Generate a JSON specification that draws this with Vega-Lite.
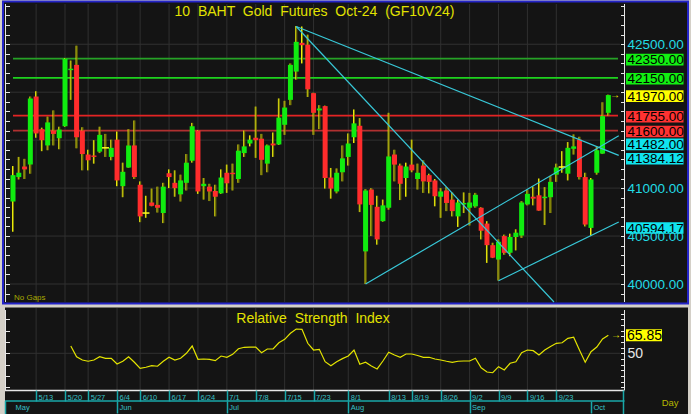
{
"$schema":"https://vega.github.io/schema/vega-lite/v6.json",
"width":691,"height":414,"padding":0,
"autosize":{"type":"none","contains":"padding"},
"background":"#d4d0c8",
"config":{"view":{"stroke":null},"scale":{"continuousPadding":0},"text":{"font":"Liberation Sans"},"axis":{"labelFont":"Liberation Sans"}},
"datasets":{
"candles":[
{"d":"05-07","i":0,"o":40860,"h":41230,"l":40545,"c":41135},
{"d":"05-08","i":1,"o":41115,"h":41325,"l":41090,"c":41160},
{"d":"05-09","i":2,"o":41225,"h":41305,"l":41095,"c":41195},
{"d":"05-10","i":3,"o":41245,"h":41955,"l":41150,"c":41935},
{"d":"05-13","i":4,"o":41955,"h":42010,"l":41525,"c":41570},
{"d":"05-14","i":5,"o":41615,"h":41630,"l":41385,"c":41500},
{"d":"05-15","i":6,"o":41445,"h":41745,"l":41395,"c":41685},
{"d":"05-16","i":7,"o":41600,"h":41810,"l":41445,"c":41565},
{"d":"05-17","i":8,"o":41520,"h":41640,"l":41405,"c":41610},
{"d":"05-20","i":9,"o":41645,"h":42355,"l":41640,"c":42350},
{"d":"05-21","i":10,"o":42230,"h":42330,"l":41920,"c":42245},
{"d":"05-23","i":11,"o":42285,"h":42485,"l":41415,"c":41530},
{"d":"05-24","i":12,"o":41600,"h":41635,"l":41185,"c":41355},
{"d":"05-27","i":13,"o":41350,"h":41400,"l":41185,"c":41290},
{"d":"05-28","i":14,"o":41340,"h":41500,"l":41255,"c":41325},
{"d":"05-29","i":15,"o":41380,"h":41640,"l":41365,"c":41555},
{"d":"05-30","i":16,"o":41420,"h":41565,"l":41325,"c":41420},
{"d":"05-31","i":17,"o":41325,"h":41505,"l":41290,"c":41420},
{"d":"06-04","i":18,"o":41505,"h":41590,"l":41020,"c":41080},
{"d":"06-05","i":19,"o":41020,"h":41265,"l":40905,"c":41170},
{"d":"06-06","i":20,"o":41215,"h":41615,"l":41210,"c":41445},
{"d":"06-07","i":21,"o":41445,"h":41705,"l":41095,"c":41115},
{"d":"06-10","i":22,"o":41035,"h":41070,"l":40645,"c":40705},
{"d":"06-11","i":23,"o":40740,"h":40920,"l":40690,"c":40740},
{"d":"06-12","i":24,"o":40850,"h":40995,"l":40810,"c":40815},
{"d":"06-13","i":25,"o":40825,"h":41015,"l":40745,"c":40795},
{"d":"06-14","i":26,"o":40740,"h":41055,"l":40635,"c":41015},
{"d":"06-17","i":27,"o":41155,"h":41195,"l":41000,"c":41115},
{"d":"06-18","i":28,"o":41055,"h":41185,"l":40910,"c":41000},
{"d":"06-19","i":29,"o":40935,"h":41140,"l":40860,"c":41080},
{"d":"06-20","i":30,"o":41055,"h":41355,"l":40975,"c":41265},
{"d":"06-21","i":31,"o":41285,"h":41680,"l":41265,"c":41645},
{"d":"06-24","i":32,"o":41600,"h":41605,"l":40940,"c":40965},
{"d":"06-25","i":33,"o":41020,"h":41105,"l":40880,"c":41045},
{"d":"06-26","i":34,"o":41015,"h":41045,"l":40865,"c":40965},
{"d":"06-27","i":35,"o":40970,"h":41035,"l":40705,"c":40910},
{"d":"06-28","i":36,"o":40945,"h":41195,"l":40940,"c":41110},
{"d":"07-01","i":37,"o":41160,"h":41245,"l":40950,"c":41050},
{"d":"07-02","i":38,"o":41160,"h":41255,"l":40975,"c":41145},
{"d":"07-03","i":39,"o":41095,"h":41455,"l":41055,"c":41390},
{"d":"07-04","i":40,"o":41365,"h":41600,"l":41325,"c":41435},
{"d":"07-05","i":41,"o":41465,"h":41550,"l":41435,"c":41505},
{"d":"07-08","i":42,"o":41525,"h":41850,"l":41315,"c":41500},
{"d":"07-09","i":43,"o":41515,"h":41565,"l":41135,"c":41295},
{"d":"07-10","i":44,"o":41255,"h":41455,"l":41165,"c":41445},
{"d":"07-11","i":45,"o":41465,"h":41580,"l":41325,"c":41445},
{"d":"07-12","i":46,"o":41455,"h":41935,"l":41450,"c":41735},
{"d":"07-15","i":47,"o":41660,"h":41910,"l":41555,"c":41840},
{"d":"07-16","i":48,"o":41920,"h":42300,"l":41865,"c":42285},
{"d":"07-17","i":49,"o":42215,"h":42690,"l":42130,"c":42525},
{"d":"07-18","i":50,"o":42515,"h":42685,"l":42300,"c":42490},
{"d":"07-19","i":51,"o":42495,"h":42600,"l":41950,"c":42030},
{"d":"07-23","i":52,"o":41990,"h":41995,"l":41555,"c":41785},
{"d":"07-24","i":53,"o":41810,"h":41865,"l":41615,"c":41830},
{"d":"07-25","i":54,"o":41855,"h":41860,"l":40995,"c":41105},
{"d":"07-26","i":55,"o":41110,"h":41210,"l":40890,"c":40995},
{"d":"07-30","i":56,"o":40965,"h":41205,"l":40945,"c":41160},
{"d":"07-31","i":57,"o":41165,"h":41445,"l":41070,"c":41310},
{"d":"08-01","i":58,"o":41325,"h":41570,"l":41235,"c":41465},
{"d":"08-02","i":59,"o":41530,"h":41820,"l":41470,"c":41675},
{"d":"08-05","i":60,"o":41650,"h":41730,"l":40750,"c":40830},
{"d":"08-06","i":61,"o":40340,"h":40990,"l":40000,"c":40975},
{"d":"08-07","i":62,"o":40985,"h":41000,"l":40500,"c":40825},
{"d":"08-08","i":63,"o":40805,"h":40920,"l":40410,"c":40465},
{"d":"08-09","i":64,"o":40655,"h":40880,"l":40650,"c":40820},
{"d":"08-13","i":65,"o":40795,"h":41785,"l":40775,"c":41330},
{"d":"08-14","i":66,"o":41350,"h":41400,"l":41070,"c":41245},
{"d":"08-15","i":67,"o":41235,"h":41255,"l":40875,"c":41045},
{"d":"08-16","i":68,"o":41105,"h":41265,"l":40910,"c":41225},
{"d":"08-19","i":69,"o":41245,"h":41505,"l":41165,"c":41185},
{"d":"08-20","i":70,"o":41095,"h":41255,"l":40985,"c":41160},
{"d":"08-21","i":71,"o":41235,"h":41290,"l":40950,"c":41070},
{"d":"08-22","i":72,"o":41135,"h":41150,"l":40945,"c":41065},
{"d":"08-23","i":73,"o":41080,"h":41095,"l":40810,"c":40915},
{"d":"08-26","i":74,"o":40910,"h":41000,"l":40690,"c":40965},
{"d":"08-27","i":75,"o":40975,"h":41010,"l":40760,"c":40845},
{"d":"08-28","i":76,"o":40880,"h":40955,"l":40705,"c":40760},
{"d":"08-29","i":77,"o":40705,"h":40880,"l":40595,"c":40850},
{"d":"08-30","i":78,"o":40830,"h":40955,"l":40740,"c":40845},
{"d":"09-02","i":79,"o":40795,"h":40950,"l":40610,"c":40850},
{"d":"09-03","i":80,"o":40810,"h":40950,"l":40795,"c":40930},
{"d":"09-04","i":81,"o":40795,"h":40800,"l":40465,"c":40555},
{"d":"09-05","i":82,"o":40630,"h":40655,"l":40220,"c":40405},
{"d":"09-06","i":83,"o":40405,"h":40430,"l":40270,"c":40275},
{"d":"09-09","i":84,"o":40255,"h":40465,"l":40035,"c":40440},
{"d":"09-10","i":85,"o":40500,"h":40515,"l":40305,"c":40325},
{"d":"09-11","i":86,"o":40325,"h":40525,"l":40290,"c":40490},
{"d":"09-12","i":87,"o":40490,"h":40570,"l":40350,"c":40535},
{"d":"09-13","i":88,"o":40505,"h":40865,"l":40480,"c":40850},
{"d":"09-16","i":89,"o":40830,"h":40985,"l":40820,"c":40940},
{"d":"09-17","i":90,"o":40910,"h":41015,"l":40820,"c":40890},
{"d":"09-18","i":91,"o":40925,"h":41100,"l":40765,"c":40765},
{"d":"09-19","i":92,"o":40895,"h":41010,"l":40615,"c":40910},
{"d":"09-20","i":93,"o":40905,"h":41125,"l":40740,"c":41065},
{"d":"09-23","i":94,"o":41140,"h":41255,"l":41065,"c":41215},
{"d":"09-24","i":95,"o":41220,"h":41385,"l":41160,"c":41220},
{"d":"09-25","i":96,"o":41150,"h":41480,"l":41080,"c":41420},
{"d":"09-26","i":97,"o":41410,"h":41560,"l":41350,"c":41435},
{"d":"09-27","i":98,"o":41505,"h":41535,"l":41090,"c":41115},
{"d":"09-30","i":99,"o":41115,"h":41160,"l":40600,"c":40620},
{"d":"10-01","i":100,"o":40585,"h":41105,"l":40505,"c":41090},
{"d":"10-02","i":101,"o":41160,"h":41435,"l":41140,"c":41395},
{"d":"10-03","i":102,"o":41360,"h":41895,"l":41355,"c":41750},
{"d":"10-04","i":103,"o":41785,"h":41975,"l":41755,"c":41970}
],
"rsi":[{"i":10,"r":56.4},{"i":11,"r":47.0},{"i":12,"r":44.1},{"i":13,"r":43.0},{"i":14,"r":44.1},{"i":15,"r":47.0},{"i":16,"r":45.6},{"i":17,"r":45.6},{"i":18,"r":40.6},{"i":19,"r":43.0},{"i":20,"r":47.0},{"i":21,"r":42.1},{"i":22,"r":36.8},{"i":23,"r":37.7},{"i":24,"r":39.1},{"i":25,"r":38.6},{"i":26,"r":43.0},{"i":27,"r":46.5},{"i":28,"r":44.1},{"i":29,"r":45.6},{"i":30,"r":50.0},{"i":31,"r":56.4},{"i":32,"r":44.7},{"i":33,"r":45.0},{"i":34,"r":44.7},{"i":35,"r":43.5},{"i":36,"r":47.6},{"i":37,"r":46.5},{"i":38,"r":49.1},{"i":39,"r":54.0},{"i":40,"r":55.3},{"i":41,"r":55.5},{"i":42,"r":55.5},{"i":43,"r":50.5},{"i":44,"r":53.8},{"i":45,"r":53.8},{"i":46,"r":59.3},{"i":47,"r":62.3},{"i":48,"r":67.6},{"i":49,"r":71.4},{"i":50,"r":71.1},{"i":51,"r":58.8},{"i":52,"r":52.9},{"i":53,"r":53.5},{"i":54,"r":42.6},{"i":55,"r":39.1},{"i":56,"r":42.6},{"i":57,"r":45.3},{"i":58,"r":47.6},{"i":59,"r":52.9},{"i":60,"r":40.3},{"i":61,"r":42.1},{"i":62,"r":38.8},{"i":63,"r":36.2},{"i":64,"r":43.2},{"i":65,"r":50.9},{"i":66,"r":48.5},{"i":67,"r":46.5},{"i":68,"r":49.4},{"i":69,"r":49.4},{"i":70,"r":48.1},{"i":71,"r":46.5},{"i":72,"r":46.5},{"i":73,"r":45.0},{"i":74,"r":44.1},{"i":75,"r":43.0},{"i":76,"r":42.1},{"i":77,"r":43.0},{"i":78,"r":43.2},{"i":79,"r":43.2},{"i":80,"r":45.6},{"i":81,"r":37.3},{"i":82,"r":33.5},{"i":83,"r":32.9},{"i":84,"r":38.2},{"i":85,"r":35.3},{"i":86,"r":41.2},{"i":87,"r":42.6},{"i":88,"r":50.5},{"i":89,"r":52.9},{"i":90,"r":52.3},{"i":91,"r":48.5},{"i":92,"r":52.9},{"i":93,"r":56.0},{"i":94,"r":58.8},{"i":95,"r":59.3},{"i":96,"r":63.2},{"i":97,"r":64.1},{"i":98,"r":53.0},{"i":99,"r":42.1},{"i":100,"r":51.4},{"i":101,"r":55.5},{"i":102,"r":62.6},{"i":103,"r":65.85}],
"pgrid":[{"v":40000},{"v":40500},{"v":41000},{"v":41500},{"v":42000},{"v":42500}],
"weeks":[{"i":4,"w":"5/13"},{"i":9,"w":"5/20"},{"i":13,"w":"5/27"},{"i":18,"w":"6/4"},{"i":22,"w":"6/10"},{"i":27,"w":"6/17"},{"i":32,"w":"6/24"},{"i":37,"w":"7/1"},{"i":42,"w":"7/8"},{"i":47,"w":"7/15"},{"i":52,"w":"7/23"},{"i":58,"w":"8/1"},{"i":65,"w":"8/13"},{"i":69,"w":"8/19"},{"i":74,"w":"8/26"},{"i":79,"w":"9/2"},{"i":84,"w":"9/9"},{"i":89,"w":"9/16"},{"i":94,"w":"9/23"}],
"levels":[{"v":42350,"k":"g1"},{"v":42150,"k":"g2"},{"v":41755,"k":"r1"},{"v":41600,"k":"r2"}],
"tags":[{"v":42350,"t":"42350.00","k":"g"},{"v":42150,"t":"42150.00","k":"g"},{"v":41970,"t":"41970.00","k":"y"},{"v":41755,"t":"41755.00","k":"r"},{"v":41600,"t":"41600.00","k":"r"},{"v":41482,"t":"41482.00","k":"c"},{"v":41384.12,"t":"41384.12","k":"c"},{"v":40594.17,"t":"40594.17","k":"c"}],
"trend":[{"g":"a","i":49,"p":42685},{"g":"a","i":93.6,"p":39812},{"g":"b","i":49,"p":42685},{"g":"b","i":104.8,"p":41341},{"g":"c","i":61,"p":40000},{"g":"c","i":104.8,"p":41546},{"g":"d","i":84,"p":40034},{"g":"d","i":104.8,"p":40647}],
"rsitag":[{"v":65.85,"t":"65.85"}]
},
"resolve":{"scale":{"y":"independent","color":"independent"},"axis":{"x":"independent","y":"independent"}},
"layer":[
{"data":{"values":[{}]},"mark":{"type":"rect","fill":"#141414","stroke":"#2424c8","strokeWidth":2},
 "encoding":{"x":{"datum":-1.7301,"type":"quantitative","scale":{"domain":[-2.2491,117.3009],"nice":false,"zero":false,"padding":0},"axis":null},"x2":{"datum":116.782},
 "y":{"datum":42945.78,"type":"quantitative","scale":{"domain":[38644.43,42961.42],"nice":false,"zero":false,"padding":0},"axis":null},"y2":{"datum":39796.67}}},
{"data":{"values":[{}]},"mark":{"type":"rect","fill":"#141414"},
 "encoding":{"x":{"datum":-1.3841,"type":"quantitative","scale":{"domain":[-2.2491,117.3009],"nice":false,"zero":false,"padding":0},"axis":null},"x2":{"datum":116.782},
 "y":{"datum":39754.96,"type":"quantitative","scale":{"domain":[38644.43,42961.42],"nice":false,"zero":false,"padding":0},"axis":null},"y2":{"datum":38644.43}}},
{"data":{"name":"pgrid"},"mark":{"type":"rule","color":"#303030","strokeWidth":1},
 "encoding":{"x":{"datum":-0.519,"type":"quantitative","scale":{"domain":[-2.2491,117.3009],"nice":false,"zero":false,"padding":0},"axis":null},"x2":{"datum":105.017},
 "y":{"field":"v","type":"quantitative","scale":{"domain":[38644.43,42961.42],"nice":false,"zero":false,"padding":0},"axis":null}}},
{"data":{"name":"weeks"},"mark":{"type":"rule","color":"#303030","strokeWidth":1},
 "encoding":{"x":{"field":"i","type":"quantitative","scale":{"domain":[-2.2491,117.3009],"nice":false,"zero":false,"padding":0},"axis":null},
 "y":{"datum":42919.71,"type":"quantitative","scale":{"domain":[38644.43,42961.42],"nice":false,"zero":false,"padding":0},"axis":null},"y2":{"datum":39812.27}}},
{"data":{"values":[{}]},"mark":{"type":"rule","color":"#303030","strokeWidth":1},
 "encoding":{"x":{"datum":-0.519,"type":"quantitative","scale":{"domain":[-2.2491,117.3009],"nice":false,"zero":false,"padding":0},"axis":null},"x2":{"datum":105.017},
 "y":{"datum":50,"type":"quantitative","scale":{"domain":[-3.433,361.0],"nice":false,"zero":false,"padding":0},"axis":null}}},
{"data":{"name":"weeks"},"mark":{"type":"rule","color":"#303030","strokeWidth":1},
 "encoding":{"x":{"field":"i","type":"quantitative","scale":{"domain":[-2.2491,117.3009],"nice":false,"zero":false,"padding":0},"axis":null},
 "y":{"datum":89.87,"type":"quantitative","scale":{"domain":[-3.433,361.0],"nice":false,"zero":false,"padding":0},"axis":null},"y2":{"datum":17.69}}},
{"data":{"name":"levels"},"mark":{"type":"rule","strokeWidth":1.7},
 "encoding":{"x":{"datum":0,"type":"quantitative","scale":{"domain":[-2.2491,117.3009],"nice":false,"zero":false,"padding":0},"axis":null},"x2":{"datum":104.67},
 "y":{"field":"v","type":"quantitative","scale":{"domain":[38644.43,42961.42],"nice":false,"zero":false,"padding":0},"axis":null},
 "color":{"field":"k","type":"nominal","scale":{"domain":["g1","g2","r1","r2"],"range":["#26a226","#1ed21e","#e42424","#b03030"]},"legend":null}}},
{"data":{"name":"candles"},"mark":{"type":"rule","color":"#eeee10","strokeWidth":1,"xOffset":-0.5},
 "encoding":{"x":{"field":"i","type":"quantitative","scale":{"domain":[-2.2491,117.3009],"nice":false,"zero":false,"padding":0},"axis":null},
 "y":{"field":"l","type":"quantitative","scale":{"domain":[38644.43,42961.42],"nice":false,"zero":false,"padding":0},"axis":null},"y2":{"field":"h"}}},
{"data":{"name":"candles"},"mark":{"type":"rule","color":"#808000","strokeWidth":1,"xOffset":0.5},
 "encoding":{"x":{"field":"i","type":"quantitative","scale":{"domain":[-2.2491,117.3009],"nice":false,"zero":false,"padding":0},"axis":null},
 "y":{"field":"l","type":"quantitative","scale":{"domain":[38644.43,42961.42],"nice":false,"zero":false,"padding":0},"axis":null},"y2":{"field":"h"}}},
{"data":{"name":"candles"},"mark":{"type":"bar","size":5},
 "encoding":{"x":{"field":"i","type":"quantitative","scale":{"domain":[-2.2491,117.3009],"nice":false,"zero":false,"padding":0},"axis":null},
 "y":{"field":"o","type":"quantitative","scale":{"domain":[38644.43,42961.42],"nice":false,"zero":false,"padding":0},"axis":null},"y2":{"field":"c"},
 "color":{"condition":{"test":"datum.c > datum.o","value":"#10ec10"},"value":"#ff2c2c"}}},
{"data":{"name":"candles"},"transform":[{"filter":"datum.o == datum.c"}],"mark":{"type":"tick","orient":"horizontal","size":7,"thickness":1.5,"color":"#ffff20","opacity":1},
 "encoding":{"x":{"field":"i","type":"quantitative","scale":{"domain":[-2.2491,117.3009],"nice":false,"zero":false,"padding":0},"axis":null},
 "y":{"field":"c","type":"quantitative","scale":{"domain":[38644.43,42961.42],"nice":false,"zero":false,"padding":0},"axis":null}}},
{"data":{"name":"trend"},"mark":{"type":"line","color":"#38c8d8","strokeWidth":1.2},
 "encoding":{"x":{"field":"i","type":"quantitative","scale":{"domain":[-2.2491,117.3009],"nice":false,"zero":false,"padding":0},"axis":null},
 "y":{"field":"p","type":"quantitative","scale":{"domain":[38644.43,42961.42],"nice":false,"zero":false,"padding":0},"axis":null},"detail":{"field":"g"}}},
{"data":{"name":"tags"},"transform":[{"filter":"datum.v != 41384.12 && datum.v != 41482"}],"mark":{"type":"bar","orient":"horizontal","size":11.6,"yOffset":1},
 "encoding":{"x":{"datum":106.055,"type":"quantitative","scale":{"domain":[-2.2491,117.3009],"nice":false,"zero":false,"padding":0},"axis":null},"x2":{"datum":116.003},
 "y":{"field":"v","type":"quantitative","scale":{"domain":[38644.43,42961.42],"nice":false,"zero":false,"padding":0},"axis":null},
 "color":{"field":"k","type":"nominal","scale":{"domain":["g","y","r","c"],"range":["#12f012","#ffff00","#ff3232","#10e4ee"]},"legend":null}}},
{"data":{"name":"tags"},"transform":[{"filter":"datum.v == 41482"}],"mark":{"type":"bar","orient":"horizontal","size":11.6,"yOffset":2.5,"color":"#10e4ee"},
 "encoding":{"x":{"datum":106.055,"type":"quantitative","scale":{"domain":[-2.2491,117.3009],"nice":false,"zero":false,"padding":0},"axis":null},"x2":{"datum":116.003},
 "y":{"field":"v","type":"quantitative","scale":{"domain":[38644.43,42961.42],"nice":false,"zero":false,"padding":0},"axis":null}}},
{"data":{"name":"tags"},"transform":[{"filter":"datum.v == 41384.12"}],"mark":{"type":"bar","orient":"horizontal","size":11.6,"yOffset":7.5,"color":"#10e4ee"},
 "encoding":{"x":{"datum":106.055,"type":"quantitative","scale":{"domain":[-2.2491,117.3009],"nice":false,"zero":false,"padding":0},"axis":null},"x2":{"datum":116.003},
 "y":{"field":"v","type":"quantitative","scale":{"domain":[38644.43,42961.42],"nice":false,"zero":false,"padding":0},"axis":null}}},
{"data":{"name":"tags"},"transform":[{"filter":"datum.v != 41384.12 && datum.v != 41482"}],"mark":{"type":"text","align":"left","baseline":"middle","fontSize":13.5,"color":"#000000","yOffset":1.5},
 "encoding":{"x":{"datum":106.315,"type":"quantitative","scale":{"domain":[-2.2491,117.3009],"nice":false,"zero":false,"padding":0},"axis":null},
 "y":{"field":"v","type":"quantitative","scale":{"domain":[38644.43,42961.42],"nice":false,"zero":false,"padding":0},"axis":null},"text":{"field":"t"}}},
{"data":{"name":"tags"},"transform":[{"filter":"datum.v == 41482"}],"mark":{"type":"text","align":"left","baseline":"middle","fontSize":13.5,"color":"#000000","yOffset":3},
 "encoding":{"x":{"datum":106.315,"type":"quantitative","scale":{"domain":[-2.2491,117.3009],"nice":false,"zero":false,"padding":0},"axis":null},
 "y":{"field":"v","type":"quantitative","scale":{"domain":[38644.43,42961.42],"nice":false,"zero":false,"padding":0},"axis":null},"text":{"field":"t"}}},
{"data":{"name":"tags"},"transform":[{"filter":"datum.v == 41384.12"}],"mark":{"type":"text","align":"left","baseline":"middle","fontSize":13.5,"color":"#000000","yOffset":8},
 "encoding":{"x":{"datum":106.315,"type":"quantitative","scale":{"domain":[-2.2491,117.3009],"nice":false,"zero":false,"padding":0},"axis":null},
 "y":{"field":"v","type":"quantitative","scale":{"domain":[38644.43,42961.42],"nice":false,"zero":false,"padding":0},"axis":null},"text":{"field":"t"}}},
{"data":{"values":[{}]},"mark":{"type":"text","text":"→","fontSize":10,"color":"#f0f000","align":"center","baseline":"middle"},
 "encoding":{"x":{"datum":104.15,"type":"quantitative","scale":{"domain":[-2.2491,117.3009],"nice":false,"zero":false,"padding":0},"axis":null},
 "y":{"datum":41970,"type":"quantitative","scale":{"domain":[38644.43,42961.42],"nice":false,"zero":false,"padding":0},"axis":null}}},
{"data":{"values":[{}]},"mark":{"type":"text","text":"10 \u00a0BAHT \u00a0Gold \u00a0Futures \u00a0Oct-24 \u00a0(GF10V24)","fontSize":14,"color":"#e2e200","align":"center","baseline":"middle"},
 "encoding":{"x":{"datum":52.16,"type":"quantitative","scale":{"domain":[-2.2491,117.3009],"nice":false,"zero":false,"padding":0},"axis":null},
 "y":{"datum":42836.3,"type":"quantitative","scale":{"domain":[38644.43,42961.42],"nice":false,"zero":false,"padding":0},"axis":null}}},
{"data":{"values":[{}]},"mark":{"type":"text","text":"No Gaps","fontSize":8,"color":"#a8a800","align":"left","baseline":"middle"},
 "encoding":{"x":{"datum":0.173,"type":"quantitative","scale":{"domain":[-2.2491,117.3009],"nice":false,"zero":false,"padding":0},"axis":null},
 "y":{"datum":39850.9,"type":"quantitative","scale":{"domain":[38644.43,42961.42],"nice":false,"zero":false,"padding":0},"axis":null}}},
{"data":{"name":"rsi"},"mark":{"type":"line","color":"#e4e400","strokeWidth":1.2},
 "encoding":{"x":{"field":"i","type":"quantitative","scale":{"domain":[-2.2491,117.3009],"nice":false,"zero":false,"padding":0},"axis":null},
 "y":{"field":"r","type":"quantitative","scale":{"domain":[-3.433,361.0],"nice":false,"zero":false,"padding":0},"axis":null}}},
{"data":{"values":[{}]},"mark":{"type":"text","text":"Relative \u00a0Strength \u00a0Index","fontSize":14,"color":"#e2e200","align":"center","baseline":"middle"},
 "encoding":{"x":{"datum":51.9,"type":"quantitative","scale":{"domain":[-2.2491,117.3009],"nice":false,"zero":false,"padding":0},"axis":null},
 "y":{"datum":80.19,"type":"quantitative","scale":{"domain":[-3.433,361.0],"nice":false,"zero":false,"padding":0},"axis":null}}},
{"data":{"name":"rsitag"},"mark":{"type":"bar","orient":"horizontal","size":12,"color":"#ffff00"},
 "encoding":{"x":{"datum":106.055,"type":"quantitative","scale":{"domain":[-2.2491,117.3009],"nice":false,"zero":false,"padding":0},"axis":null},"x2":{"datum":112.284},
 "y":{"field":"v","type":"quantitative","scale":{"domain":[-3.433,361.0],"nice":false,"zero":false,"padding":0},"axis":null}}},
{"data":{"name":"rsitag"},"mark":{"type":"text","align":"left","baseline":"middle","fontSize":14,"color":"#000000","yOffset":0.5},
 "encoding":{"x":{"datum":106.228,"type":"quantitative","scale":{"domain":[-2.2491,117.3009],"nice":false,"zero":false,"padding":0},"axis":null},
 "y":{"field":"v","type":"quantitative","scale":{"domain":[-3.433,361.0],"nice":false,"zero":false,"padding":0},"axis":null},"text":{"field":"t"}}},
{"data":{"values":[{}]},"mark":{"type":"text","text":"→","fontSize":10,"color":"#f0f000","align":"center","baseline":"middle"},
 "encoding":{"x":{"datum":104.33,"type":"quantitative","scale":{"domain":[-2.2491,117.3009],"nice":false,"zero":false,"padding":0},"axis":null},
 "y":{"datum":65.85,"type":"quantitative","scale":{"domain":[-3.433,361.0],"nice":false,"zero":false,"padding":0},"axis":null}}},
{"data":{"values":[{}]},"mark":{"type":"text","text":"Day","fontSize":9.5,"color":"#b4b400","align":"left","baseline":"middle"},
 "encoding":{"x":{"datum":112.23,"type":"quantitative","scale":{"domain":[-2.2491,117.3009],"nice":false,"zero":false,"padding":0},"axis":null},
 "y":{"datum":6.69,"type":"quantitative","scale":{"domain":[-3.433,361.0],"nice":false,"zero":false,"padding":0},"axis":null}}},
{"data":{"values":[{}]},"mark":{"type":"rule","color":"#e8e8e8","strokeWidth":1},
 "encoding":{"x":{"datum":-1.2976,"type":"quantitative","scale":{"domain":[-2.2491,117.3009],"nice":false,"zero":false,"padding":0},"axis":null},
 "y":{"datum":42919.71,"type":"quantitative","scale":{"domain":[38644.43,42961.42],"nice":false,"zero":false,"padding":0},"axis":null},"y2":{"datum":39812.27}}},
{"data":{"values":[{}]},"mark":{"type":"rule","color":"#e8e8e8","strokeWidth":1},
 "encoding":{"x":{"datum":105.796,"type":"quantitative","scale":{"domain":[-2.2491,117.3009],"nice":false,"zero":false,"padding":0},"axis":null},
 "y":{"datum":42919.71,"type":"quantitative","scale":{"domain":[38644.43,42961.42],"nice":false,"zero":false,"padding":0},"axis":null},"y2":{"datum":39812.27}}},
{"data":{"values":[{}]},"mark":{"type":"rule","color":"#e8e8e8","strokeWidth":1},
 "encoding":{"x":{"datum":-1.2976,"type":"quantitative","scale":{"domain":[-2.2491,117.3009],"nice":false,"zero":false,"padding":0},"axis":null},
 "y":{"datum":88.11,"type":"quantitative","scale":{"domain":[-3.433,361.0],"nice":false,"zero":false,"padding":0},"axis":null},"y2":{"datum":17.69}}},
{"data":{"values":[{}]},"mark":{"type":"rule","color":"#e8e8e8","strokeWidth":1},
 "encoding":{"x":{"datum":105.796,"type":"quantitative","scale":{"domain":[-2.2491,117.3009],"nice":false,"zero":false,"padding":0},"axis":null},
 "y":{"datum":88.11,"type":"quantitative","scale":{"domain":[-3.433,361.0],"nice":false,"zero":false,"padding":0},"axis":null},"y2":{"datum":17.69}}},
{"data":{"values":[{}]},"mark":{"type":"rule","color":"#e8e8e8","strokeWidth":1.5},
 "encoding":{"x":{"datum":-1.3841,"type":"quantitative","scale":{"domain":[-2.2491,117.3009],"nice":false,"zero":false,"padding":0},"axis":null},"x2":{"datum":105.796},
 "y":{"datum":17.25,"type":"quantitative","scale":{"domain":[-3.433,361.0],"nice":false,"zero":false,"padding":0},"axis":null}}},
{"data":{"values":[{}]},"mark":{"type":"rule","color":"#19a7a8","strokeWidth":1.5},
 "encoding":{"x":{"datum":-1.3841,"type":"quantitative","scale":{"domain":[-2.2491,117.3009],"nice":false,"zero":false,"padding":0},"axis":null},"x2":{"datum":105.796},
 "y":{"datum":8.01,"type":"quantitative","scale":{"domain":[-3.433,361.0],"nice":false,"zero":false,"padding":0},"axis":null}}},
{"data":{"values":[{}]},"mark":{"type":"rule","color":"#19a7a8","strokeWidth":1.5},
 "encoding":{"x":{"datum":105.62,"type":"quantitative","scale":{"domain":[-2.2491,117.3009],"nice":false,"zero":false,"padding":0},"axis":null},
 "y":{"datum":17.25,"type":"quantitative","scale":{"domain":[-3.433,361.0],"nice":false,"zero":false,"padding":0},"axis":null},"y2":{"datum":-3.43}}},
{"data":{"values":[{}]},"mark":{"type":"rule","color":"#19a7a8","strokeWidth":1.5},
 "encoding":{"x":{"datum":-1.2976,"type":"quantitative","scale":{"domain":[-2.2491,117.3009],"nice":false,"zero":false,"padding":0},"axis":null},
 "y":{"datum":8.01,"type":"quantitative","scale":{"domain":[-3.433,361.0],"nice":false,"zero":false,"padding":0},"axis":null},"y2":{"datum":-3.43}}},
{"data":{"name":"pgrid"},"mark":{"type":"rule","opacity":0},
 "encoding":{"y":{"field":"v","type":"quantitative","scale":{"domain":[38644.43,42961.42],"nice":false,"zero":false,"padding":0},
 "axis":{"orient":"left","offset":-624.5,"values":[39900,40000,40100,40200,40300,40400,40500,40600,40700,40800,40900,41000,41100,41200,41300,41400,41500,41600,41700,41800,41900,42000,42100,42200,42300,42400,42500,42600,42700,42800,42900],"tickSize":4,"tickColor":"#e8e8e8","tickWidth":1,"domain":false,"labels":false,"grid":false,"title":null,"zindex":1}}}},
{"data":{"name":"pgrid"},"mark":{"type":"rule","opacity":0},
 "encoding":{"y":{"field":"v","type":"quantitative","scale":{"domain":[38644.43,42961.42],"nice":false,"zero":false,"padding":0},
 "axis":{"orient":"right","offset":-685.5,"values":[39900,40000,40100,40200,40300,40400,40500,40600,40700,40800,40900,41000,41100,41200,41300,41400,41500,41600,41700,41800,41900,42000,42100,42200,42300,42400,42500,42600,42700,42800,42900],"tickSize":4,"tickColor":"#e8e8e8","tickWidth":1,"domain":false,"labels":false,"grid":false,"title":null,"zindex":1}}}},
{"data":{"name":"pgrid"},"mark":{"type":"rule","opacity":0},
 "encoding":{"y":{"field":"v","type":"quantitative","scale":{"domain":[38644.43,42961.42],"nice":false,"zero":false,"padding":0},
 "axis":{"orient":"right","offset":-66.5,"values":[40000,40500,41000,42500],"ticks":false,"domain":false,"grid":false,"title":null,"labelExpr":"format(datum.value, '.2f')","labelPadding":2.5,"labelColor":"#22dce6","labelFontSize":13.5,"labelAlign":"left","labelBaseline":"middle","labelOverlap":false,"labelBound":false,"labelFlush":false,"zindex":1}}}},
{"data":{"name":"rsi"},"mark":{"type":"rule","opacity":0},
 "encoding":{"y":{"field":"r","type":"quantitative","scale":{"domain":[-3.433,361.0],"nice":false,"zero":false,"padding":0},
 "axis":{"orient":"left","offset":-624.5,"values":[20,25,30,35,40,45,50,55,60,65,70,75,80,85],"tickSize":4,"tickColor":"#e8e8e8","tickWidth":1,"domain":false,"labels":false,"grid":false,"title":null,"zindex":1}}}},
{"data":{"name":"rsi"},"mark":{"type":"rule","opacity":0},
 "encoding":{"y":{"field":"r","type":"quantitative","scale":{"domain":[-3.433,361.0],"nice":false,"zero":false,"padding":0},
 "axis":{"orient":"right","offset":-685.5,"values":[20,30,40,50,60,70,80],"tickSize":4,"tickColor":"#e8e8e8","tickWidth":1,"domain":false,"labels":false,"grid":false,"title":null,"zindex":1}}}},
{"data":{"name":"rsi"},"mark":{"type":"rule","opacity":0},
 "encoding":{"y":{"field":"r","type":"quantitative","scale":{"domain":[-3.433,361.0],"nice":false,"zero":false,"padding":0},
 "axis":{"orient":"right","offset":-66.5,"values":[50],"ticks":false,"domain":false,"grid":false,"title":null,"labelExpr":"format(datum.value, 'd')","labelPadding":2.5,"labelColor":"#e6e6e6","labelFontSize":14,"labelAlign":"left","labelBaseline":"middle","labelOverlap":false,"labelBound":false,"labelFlush":false,"zindex":1}}}},
{"data":{"name":"weeks"},"mark":{"type":"rule","opacity":0},
 "encoding":{"x":{"field":"i","type":"quantitative","scale":{"domain":[-2.2491,117.3009],"nice":false,"zero":false,"padding":0},
 "axis":{"orient":"bottom","offset":-24,"values":[4,9,13,18,22,27,32,37,42,47,52,58,65,69,74,79,84,89,94],"tickSize":11,"tickColor":"#19a7a8","tickWidth":1.5,"domain":false,"grid":false,"title":null,
 "labelExpr":"['5/13','5/20','5/27','6/4','6/10','6/17','6/24','7/1','7/8','7/15','7/23','8/1','8/13','8/19','8/26','9/2','9/9','9/16','9/23'][indexof([4,9,13,18,22,27,32,37,42,47,52,58,65,69,74,79,84,89,94], datum.value)]",
 "labelAlign":"left","labelBaseline":"top","labelPadding":-7.5,"labelOffset":2,"labelColor":"#38c2c8","labelFontSize":7.5,"labelOverlap":false,"labelBound":false,"labelFlush":false,"zindex":1}}}},
{"data":{"name":"weeks"},"mark":{"type":"rule","opacity":0},
 "encoding":{"x":{"field":"i","type":"quantitative","scale":{"domain":[-2.2491,117.3009],"nice":false,"zero":false,"padding":0},
 "axis":{"orient":"bottom","offset":-13,"values":[0,18,37,58,79,100],"tickSize":12,"tickColor":{"condition":{"test":"datum.value === 0","value":"transparent"},"value":"#19a7a8"},"tickWidth":1.5,"domain":false,"grid":false,"title":null,
 "labelExpr":"['May','Jun','Jul','Aug','Sep','Oct'][indexof([0,18,37,58,79,100], datum.value)]",
 "labelAlign":"left","labelBaseline":"top","labelPadding":-10,"labelOffset":2,"labelColor":"#38c2c8","labelFontSize":7.5,"labelOverlap":false,"labelBound":false,"labelFlush":false,"zindex":1}}}}
]
}
